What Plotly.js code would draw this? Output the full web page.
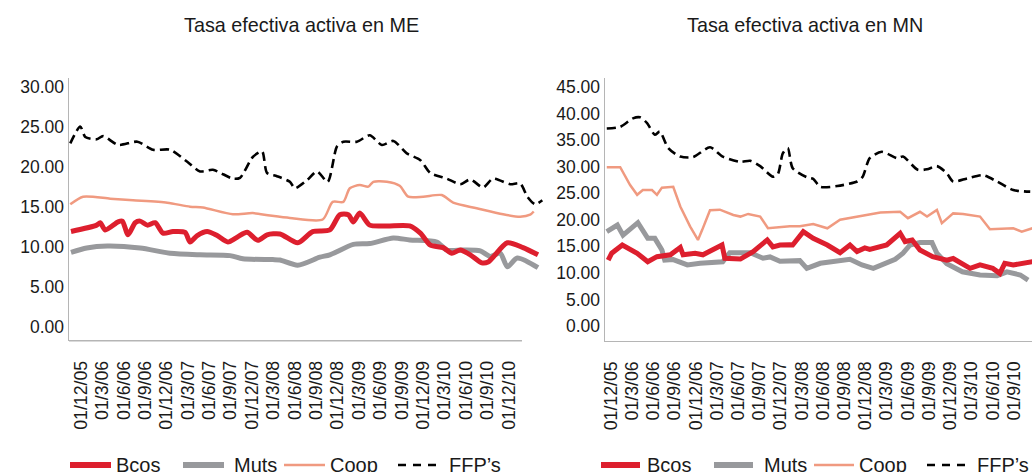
<!DOCTYPE html>
<html>
<head>
<meta charset="utf-8">
<script src="https://cdn.plot.ly/plotly-3.0.1.min.js"></script>
<style>html,body{margin:0;padding:0;background:#fff;}#chart{width:1032px;height:472px;}</style>
</head>
<body>
<div id="chart"></div>
<script>
// x values: months since 01/12/05
var tickMonths = [0,3,6,9,12,15,18,21,24,27,30,33,36,39,42,45,48,51,54,57,60];
var tickLabels = ["01/12/05","01/3/06","01/6/06","01/9/06","01/12/06","01/3/07","01/6/07","01/9/07","01/12/07","01/3/08","01/6/08","01/9/08","01/12/08","01/3/09","01/6/09","01/9/09","01/12/09","01/3/10","01/6/10","01/9/10","01/12/10"];
var seriesNames = ["Bcos","Muts","Coop","FFP\u2019s"];
var panelTitles = ["Tasa efectiva activa en ME","Tasa efectiva activa en MN"];

// ---- ME ----
var meBcosX = [-1.4,2.2,2.7,3.4,5.2,5.8,6.6,7.6,8.3,9.3,10.4,11.5,12.9,14.6,15.3,16.3,17.7,19.1,20.6,21.9,23.3,24.8,26.1,27.9,30.4,32.5,34.9,36.3,37.5,38.2,39.1,40.5,42.9,46.1,47.6,49.0,50.8,52.0,53.2,54.6,56.2,57.1,59.8,62.0,64.1];
var meBcosY = [11.9,12.7,13.0,12.1,13.1,13.2,11.5,13.0,13.2,12.7,13.0,11.7,11.9,11.8,10.6,11.4,11.9,11.4,10.6,11.2,11.8,10.8,11.5,11.6,10.5,11.9,12.1,14.0,14.0,13.1,14.2,12.7,12.6,12.6,11.7,10.2,9.9,9.2,9.6,9.0,8.0,8.1,10.5,9.9,9.0];
var meMutsX = [-1.4,0.8,3.7,8.3,12.5,16.7,20.9,22.7,26.9,27.9,30.4,33.5,34.9,38.2,40.5,43.8,46.1,49.9,51.3,53.6,56.0,57.4,58.8,59.8,61.2,64.1];
var meMutsY = [9.3,9.85,10.1,9.85,9.2,9.0,8.9,8.5,8.4,8.35,7.7,8.7,9.0,10.3,10.4,11.1,10.85,10.6,9.6,9.6,9.5,8.8,9.2,7.5,8.6,7.4];
var meCoopX = [-1.5,0.3,4.1,7.3,12.1,15.3,17.1,21.3,24.1,26.5,29.3,33.9,35.3,36.8,37.7,39.1,40.3,41.0,42.9,44.7,45.9,48.0,50.6,52.2,55.5,59.2,61.6,63.0,63.5];
var meCoopY = [15.3,16.25,16.0,15.8,15.5,15.0,14.9,14.05,14.2,13.9,13.6,13.4,15.6,15.6,17.3,17.7,17.5,18.1,18.1,17.6,16.25,16.25,16.45,15.5,14.8,14.05,13.75,14.0,14.4];
var meFfpX = [-1.5,-0.1,0.6,2.2,3.1,5.2,7.9,10.1,12.5,14.9,16.7,18.5,21.3,22.3,24.1,25.4,26.1,27.5,29.3,30.0,31.7,33.1,34.6,35.9,36.8,38.7,40.5,42.2,43.8,45.7,47.6,49.0,51.3,53.2,54.6,56.4,57.8,60.2,61.6,62.6,63.7,64.7];
var meFfpY = [22.9,25.0,23.7,23.4,23.8,22.7,23.1,22.1,22.1,20.6,19.4,19.6,18.5,18.6,21.2,21.9,19.2,18.8,18.1,17.3,18.3,19.4,18.1,22.5,23.1,23.1,23.9,22.7,23.2,21.65,20.8,19.2,18.5,17.8,18.4,17.4,18.5,17.8,17.9,16.25,15.3,15.8];

// ---- MN ----
var mnBcosX = [-0.4,0.1,1.6,3.7,5.2,6.5,8.4,9.8,10.2,11.9,13.0,14.3,15.7,16.1,18.3,20.1,22.1,22.9,23.9,25.3,25.7,27.2,28.6,30.6,32.4,33.8,34.8,35.9,36.6,39.0,40.9,41.6,42.6,43.7,45.5,47.5,48.4,50.8,52.2,54.0,55.0,55.7,56.9,59.6];
var mnBcosY = [12.4,13.7,15.25,13.7,12.1,13.05,13.4,14.8,13.4,13.7,13.4,14.3,15.25,12.75,12.6,14.0,16.2,14.9,15.25,15.3,15.25,17.75,16.5,15.25,13.8,15.25,14.0,14.7,14.4,15.25,17.45,15.9,16.2,14.3,13.05,12.4,12.7,10.85,11.5,10.85,9.9,11.8,11.5,12.1];
var mnMutsX = [-0.6,0.9,1.7,3.8,5.2,6.2,7.2,7.6,8.8,10.8,12.6,15.8,16.8,19.7,21.5,22.5,23.9,26.7,27.7,29.6,33.8,35.5,37.1,39.0,40.2,41.3,42.3,43.7,45.4,46.1,47.5,49.7,52.2,54.6,56.0,57.9,59.0];
var mnMutsY = [17.75,19.0,17.1,19.45,16.5,16.5,14.3,12.4,12.5,11.5,11.8,12.1,13.8,13.8,12.75,13.0,12.2,12.3,10.85,11.8,12.55,11.5,10.85,11.8,12.55,13.7,15.25,15.7,15.7,13.7,11.7,10.2,9.6,9.45,10.2,9.6,8.65];
var mnCoopX = [-0.6,1.3,2.7,3.7,4.5,5.8,6.5,7.2,8.8,9.8,11.2,12.3,12.9,14.0,15.4,17.3,18.3,19.4,21.1,22.2,25.3,26.7,28.6,30.6,32.4,35.2,38.1,40.9,42.0,43.7,44.7,46.1,46.8,48.4,49.8,52.2,53.6,56.9,58.1,59.6];
var mnCoopY = [29.9,29.9,26.55,24.7,25.6,25.6,24.7,26.05,26.2,22.5,18.7,16.2,18.1,21.8,21.9,20.9,20.6,21.1,20.6,18.4,18.8,18.8,19.2,18.4,20.0,20.6,21.35,21.5,20.3,21.5,20.6,21.85,19.35,21.2,21.1,20.6,18.2,18.4,17.75,18.4];
var mnFfpX = [-0.6,1.3,3.1,4.1,5.1,6.2,6.9,8.1,9.8,11.6,14.0,15.8,18.3,19.7,21.1,22.9,23.6,24.3,25.0,25.7,27.7,28.6,29.6,32.0,34.8,35.6,36.6,38.3,40.5,41.3,43.4,44.7,46.1,47.5,48.4,50.4,52.6,54.6,56.9,59.3];
var mnFfpY = [37.2,37.5,39.1,39.3,38.2,36.0,36.6,33.5,31.9,31.8,33.65,31.9,30.9,31.1,30.1,28.1,28.6,32.5,33.5,29.7,28.0,27.7,26.2,26.35,27.2,28.1,31.6,32.8,31.6,31.9,29.4,29.5,30.1,28.75,27.2,27.8,28.4,27.2,25.6,25.3];

var colors = ["#dd1f2e","#98999c","#f09a80","#000000"];
var widths = [5,5,2.5,2.6];
var dashes = ["solid","solid","solid","9px,5px"];

function mk(x, y, i, xa, ya, shape) {
  return {x: x, y: y, type: "scatter", mode: "lines", name: seriesNames[i],
    xaxis: xa, yaxis: ya, showlegend: false, hoverinfo: "skip",
    line: {color: colors[i], width: widths[i], dash: dashes[i], shape: shape, smoothing: 0.7}};
}

var traces = [
  mk(meMutsX, meMutsY, 1, "x", "y", "spline"),
  mk(meCoopX, meCoopY, 2, "x", "y", "spline"),
  mk(meBcosX, meBcosY, 0, "x", "y", "spline"),
  mk(meFfpX, meFfpY, 3, "x", "y", "spline"),
  mk(mnMutsX, mnMutsY, 1, "x2", "y2", "linear"),
  mk(mnCoopX, mnCoopY, 2, "x2", "y2", "linear"),
  mk(mnBcosX, mnBcosY, 0, "x2", "y2", "linear"),
  mk(mnFfpX, mnFfpY, 3, "x2", "y2", "spline")
];

var FONT = "Liberation Sans, Arial, Helvetica, sans-serif";
var txt = "#1a1a1a";
var axisGray = "#b5b5b5";

function xAxis(domain, range, showline) {
  return {domain: domain, range: range, tickmode: "array", tickvals: tickMonths, ticktext: tickLabels,
    tickangle: -90, showgrid: false, zeroline: false, showline: showline, linecolor: axisGray, linewidth: 1.5,
    ticks: "outside", ticklen: 12, tickcolor: "rgba(0,0,0,0)", fixedrange: true,
    tickfont: {family: FONT, size: 17.7, color: txt}};
}
function yAxis(anchor, range) {
  return {anchor: anchor, domain: [0.278, 0.835], range: range, dtick: 5, tick0: 0, tickformat: ".2f",
    showgrid: false, zeroline: false, showline: true, linecolor: axisGray, linewidth: 1.5,
    ticks: "", 
    tickfont: {family: FONT, size: 17.5, color: txt}};
}

var layout = {
  width: 1032, height: 472,
  margin: {l: 0, r: 0, t: 0, b: 0},
  paper_bgcolor: "#ffffff", plot_bgcolor: "#ffffff",
  showlegend: false,
  xaxis: xAxis([69/1032, 545/1032], [-1.68, 65.08], false),
  yaxis: yAxis("x", [-1.72, 31.06]),
  xaxis2: xAxis([605/1032, 1], [-0.85, 59.55], true),
  yaxis2: yAxis("x2", [-2.79, 46.72]),
  shapes: [],
  annotations: []
};
layout.xaxis.anchor = "y";
layout.xaxis2.anchor = "y2";

// ME x-axis line (shorter than data extent, as in the reference)
layout.shapes.push({type: "line", xref: "x", yref: "paper", x0: -1.68, x1: 61.85, y0: 0.278, y1: 0.278,
  line: {color: axisGray, width: 1.5}});

// Titles
layout.annotations.push({text: panelTitles[0], xref: "paper", yref: "paper", x: 301/1032, y: (472-25)/472,
  xanchor: "center", yanchor: "middle", showarrow: false, font: {family: FONT, size: 19.8, color: txt}});
layout.annotations.push({text: panelTitles[1], xref: "paper", yref: "paper", x: 805/1032, y: (472-25)/472,
  xanchor: "center", yanchor: "middle", showarrow: false, font: {family: FONT, size: 19.8, color: txt}});

// Manual legends
var legendLines = [
  [[70,111,116],[183,224,234],[284,325,330],[398,439,449]],
  [[601,640,647],[714,753,764],[814,854,859],[927,968,977]]
];
var legW = [6,6,2.5,2.6];
var legDash = ["solid","solid","solid","8px,7px"];
var legY = (472-465)/472;
legendLines.forEach(function(panel){
  panel.forEach(function(it, i){
    layout.shapes.push({type: "line", xref: "paper", yref: "paper", x0: it[0]/1032, x1: it[1]/1032,
      y0: legY, y1: legY, line: {color: colors[i], width: legW[i], dash: legDash[i]}});
    layout.annotations.push({text: seriesNames[i], xref: "paper", yref: "paper", x: it[2]/1032, y: legY,
      xanchor: "left", yanchor: "middle", showarrow: false, xshift: -2,
      font: {family: FONT, size: 20, color: txt}});
  });
});

Plotly.newPlot("chart", traces, layout, {displayModeBar: false, staticPlot: true});
</script>
</body>
</html>
